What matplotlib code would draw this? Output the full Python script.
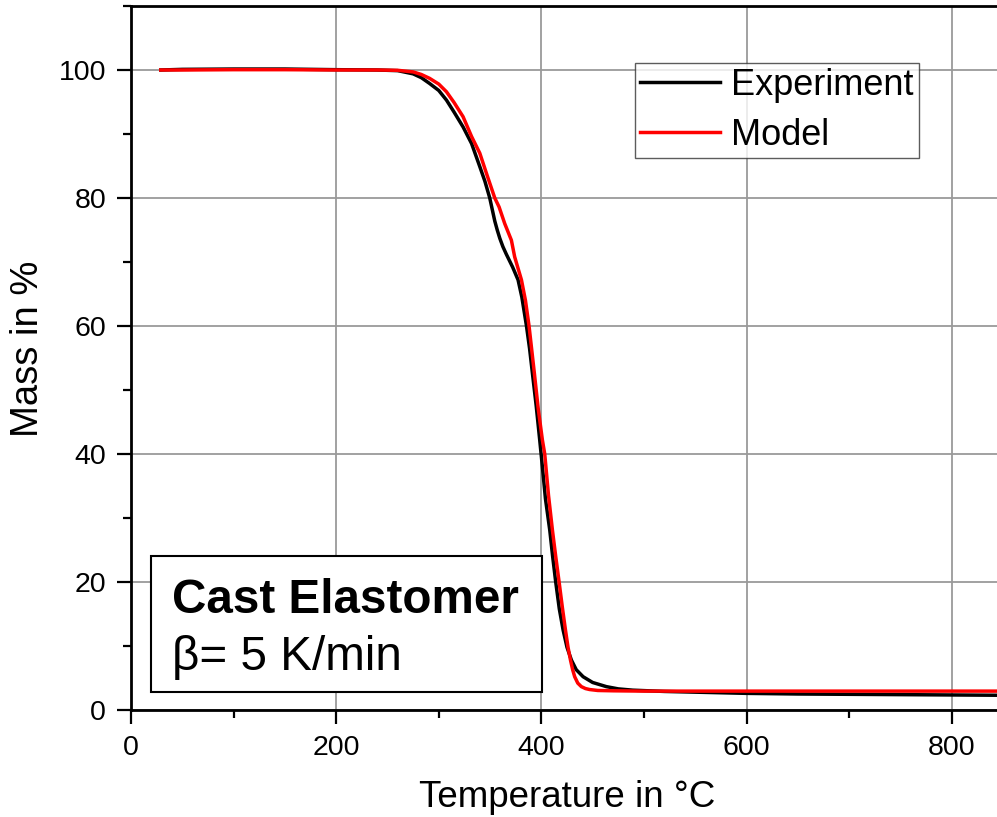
import matplotlib
matplotlib.use("Agg")
import matplotlib.pyplot as plt
from matplotlib.patches import Rectangle
from matplotlib.ticker import MultipleLocator

plt.rcParams['font.family'] = ['Liberation Sans', 'DejaVu Sans']

# Experiment (black)
exp_T = [29, 50, 100, 150, 200, 240, 260, 275, 283, 291, 300, 307.5, 315, 323.7, 332,
         340, 345, 349.7, 354.6, 357, 359.5, 362.5, 365.9, 372, 377.3, 381, 385.5,
         388.5, 391.3, 395, 398.4, 401, 404, 408.2, 411, 414, 417.5, 421.2, 425, 429.3,
         434, 440.7, 450, 463.4, 475, 489, 520, 560, 600, 650, 700, 750, 800, 850]
exp_M = [100, 100.1, 100.15, 100.15, 100.05, 100, 99.9, 99.4, 98.8, 97.9, 96.8, 95.3,
         93.4, 91.1, 88.5, 84.9, 82.6, 80, 76.4, 75.0, 73.7, 72.4, 71.2, 69.2, 67.2,
         64.5, 60, 56.5, 52.6, 47.5, 42.2, 38, 33, 28.1, 24, 20, 15.8, 12.5, 9.8, 7.8,
         6.3, 5.2, 4.3, 3.65, 3.3, 3.1, 2.9, 2.75, 2.6, 2.5, 2.45, 2.4, 2.35, 2.3]

# Model (red)
mod_T = [29, 50, 100, 150, 200, 240, 260, 275, 283, 291, 300, 307.5, 315, 323.7, 332,
         340, 347, 354.6, 358.8, 364.3, 370.8, 374, 380.6, 384.5, 388, 393.2, 397, 401,
         403.3, 407, 410.8, 414, 417.3, 420.5, 423.5, 426, 428.4, 430.5, 432.5, 435.5,
         439, 443, 447, 455, 470, 500, 600, 700, 850]
mod_M = [100, 100, 100.05, 100.05, 100, 100, 99.95, 99.7, 99.3, 98.7, 97.8, 96.6,
         94.9, 92.7, 89.6, 87, 83.6, 80, 78.6, 76, 73.4, 70.8, 67.2, 64, 60, 52.6,
         47, 42.2, 40, 33.5, 28.1, 24, 20, 16, 12.5, 9.8, 7.8, 6.3, 5.2, 4.2, 3.65,
         3.35, 3.2, 3.05, 3.0, 2.95, 2.95, 2.95, 2.95]

x_ticks = [0, 200, 400, 600, 800]
y_ticks = [0, 20, 40, 60, 80, 100]

W, H = 997, 817
fig = plt.figure(figsize=(W / 100, H / 100), dpi=100)
ax = fig.add_axes([131 / W, 1 - 710 / H, (1003 - 131) / W, (710 - 6) / H])

ax.set_xlim(0, 850)
ax.set_ylim(0, 110)
ax.set_xticks(x_ticks)
ax.set_yticks(y_ticks)
ax.xaxis.set_minor_locator(MultipleLocator(100))
ax.yaxis.set_minor_locator(MultipleLocator(10))

ax.grid(True, which='major', color='#9a9a9a', lw=1.3, zorder=0)
ax.set_axisbelow(True)

ax.plot(exp_T, exp_M, color='black', lw=2.5, label='Experiment', zorder=3,
        solid_joinstyle='round')
ax.plot(mod_T, mod_M, color='#ff0000', lw=2.5, label='Model', zorder=4,
        solid_joinstyle='round')

for s in ['left', 'bottom', 'top']:
    ax.spines[s].set_linewidth(2.0)
ax.spines['right'].set_visible(False)

ax.tick_params(which='major', direction='out', length=10, width=1.6, labelsize=20.5,
               pad=8, top=False, right=False)
ax.tick_params(which='minor', direction='out', length=5.5, width=1.6,
               top=False, right=False)

ax.set_xlabel('Temperature in °C', fontsize=26.5, labelpad=14)
ax.set_ylabel('Mass in %', fontsize=27.5)
ax.yaxis.set_label_coords((46 - 131) / (1003 - 131), (710 - 349) / (710 - 6))

leg = ax.legend(loc='upper left', bbox_to_anchor=(634.7 / W, 1 - 62.7 / H),
                bbox_transform=fig.transFigure, fontsize=26, frameon=True,
                fancybox=False, borderpad=0.15, labelspacing=0.4,
                handlelength=2.2, handletextpad=0.33, borderaxespad=0)
leg.get_frame().set_edgecolor('#333333')
leg.get_frame().set_linewidth(1.0)

# annotation box
ax_w = 1003 - 131
ax_h = 710 - 6
rect = Rectangle(((150.7 - 131) / ax_w, (710 - 691.7) / ax_h),
                 (541.7 - 150.7) / ax_w, (691.7 - 555.7) / ax_h,
                 transform=ax.transAxes, facecolor='white', edgecolor='black',
                 lw=1.5, zorder=5)
ax.add_patch(rect)
ax.text((171.7 - 131) / ax_w, (710 - 612.7) / ax_h, 'Cast Elastomer',
        transform=ax.transAxes, fontsize=34.3, fontweight='bold', va='baseline',
        ha='left', zorder=6)
ax.text((171.7 - 131) / ax_w, (710 - 670) / ax_h, 'β= 5 K/min',
        transform=ax.transAxes, fontsize=34.3, va='baseline', ha='left', zorder=6)

fig.savefig('out.png', dpi=100)
